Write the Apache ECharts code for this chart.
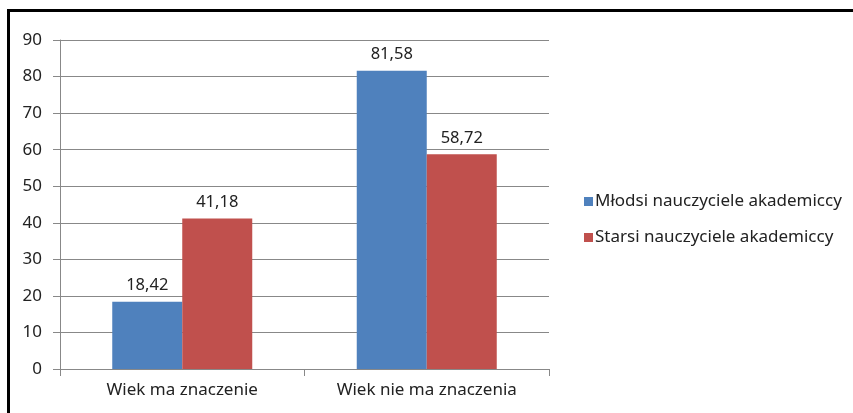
<!DOCTYPE html>
<html>
<head>
<meta charset="utf-8">
<script src="https://cdn.jsdelivr.net/npm/echarts@6/dist/echarts.min.js"></script>
<style>
  html, body { margin: 0; padding: 0; background: #fff; }
  #main { width: 853px; height: 413px; }
</style>
</head>
<body>
<div id="main"></div>
<script>
const categories = ['Wiek ma znaczenie', 'Wiek nie ma znaczenia'];
const seriesNames = ['Młodsi nauczyciele akademiccy', 'Starsi nauczyciele akademiccy'];
const youngValues = [18.42, 81.58];
const olderValues = [41.18, 58.72];
const colors = ['#4F81BD', '#C0504D'];

const font = 'Noto Sans';
const fmt = p => String(p.value.toFixed(2)).replace('.', ',');

const chart = echarts.init(document.getElementById('main'));
chart.setOption({
  animation: false,
  backgroundColor: '#fff',
  textStyle: { fontFamily: font },
  graphic: [{
    type: 'rect',
    shape: { x: 8.5, y: 10.5, width: 900, height: 500 },
    style: { fill: 'none', stroke: '#000', lineWidth: 3 },
    silent: true
  }],
  grid: { left: 60, right: 304, top: 40, bottom: 44 },
  legend: {
    orient: 'vertical',
    left: 579,
    top: 188,
    itemWidth: 9,
    itemHeight: 9,
    itemGap: 19,
    icon: 'rect',
    textStyle: { fontFamily: font, fontSize: 17, color: '#222', padding: [0, 0, 0, -3] },
    data: seriesNames
  },
  xAxis: {
    type: 'category',
    data: categories,
    axisLine: { lineStyle: { color: '#888' } },
    axisTick: { show: true, length: 7, lineStyle: { color: '#888' } },
    axisLabel: { color: '#222', fontSize: 17, margin: 13 }
  },
  yAxis: {
    type: 'value',
    min: 0,
    max: 90,
    interval: 10,
    axisLine: { show: true, lineStyle: { color: '#888' } },
    axisTick: { show: true, length: 7, lineStyle: { color: '#888' } },
    axisLabel: { color: '#222', fontSize: 17, margin: 18 },
    splitLine: { lineStyle: { color: '#888' } }
  },
  series: [
    {
      name: seriesNames[0],
      type: 'bar',
      data: youngValues,
      barWidth: 70,
      barGap: '0%',
      itemStyle: { color: colors[0] },
      label: { show: true, position: 'top', distance: 8, color: '#222', fontSize: 16.5, formatter: fmt }
    },
    {
      name: seriesNames[1],
      type: 'bar',
      data: olderValues,
      barWidth: 70,
      barGap: '0%',
      itemStyle: { color: colors[1] },
      label: { show: true, position: 'top', distance: 8, color: '#222', fontSize: 16.5, formatter: fmt }
    }
  ]
});
</script>
</body>
</html>
